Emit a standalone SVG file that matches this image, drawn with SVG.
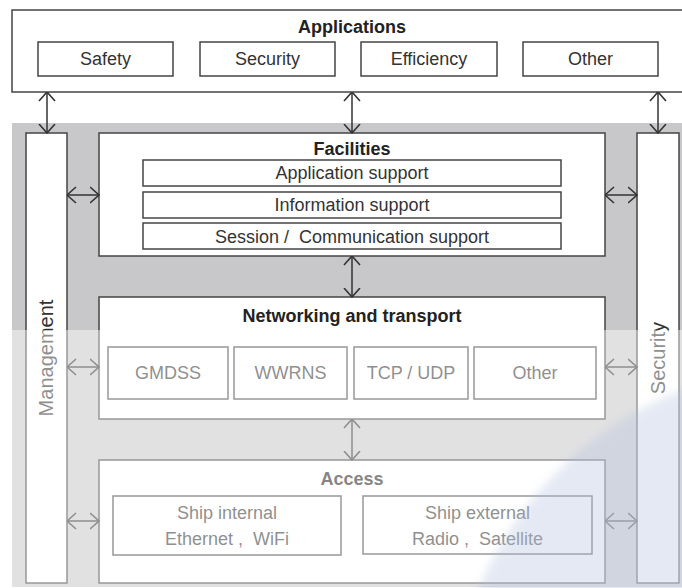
<svg xmlns="http://www.w3.org/2000/svg" width="682" height="588" viewBox="0 0 682 588">
  <defs>
    <style>
      .box { fill: #ffffff; stroke: #444; stroke-width: 1.5; }
      .t { font-family: "Liberation Sans", Arial, sans-serif; font-size: 18px; fill: #333; text-anchor: middle; }
      .b { font-weight: bold; fill: #222; }
      .side { font-size: 20px; }
      .conn line { stroke: #333; stroke-width: 1.5; marker-start: url(#chev); marker-end: url(#chev); }
    </style>
    <marker id="chev" viewBox="0 0 10 18" refX="9.5" refY="9" markerWidth="10" markerHeight="18" markerUnits="userSpaceOnUse" orient="auto-start-reverse">
      <path d="M0.5,1 L9.5,9 L0.5,17" fill="none" stroke="#333" stroke-width="1.6"/>
    </marker>
    <filter id="soft" x="-10%" y="-10%" width="120%" height="120%">
      <feGaussianBlur stdDeviation="4"/>
    </filter>
  </defs>

  <!-- background band behind the stack -->
  <rect x="12" y="123" width="670" height="464" fill="#c8c8ca"/>

  <g id="applications">
    <rect class="box" x="12" y="10" width="680" height="82"/>
    <text class="t b" x="352" y="33">Applications</text>
    <rect class="box" x="38" y="42" width="135" height="34"/>
    <text class="t" x="105.5" y="65">Safety</text>
    <rect class="box" x="200" y="42" width="135" height="34"/>
    <text class="t" x="267.5" y="65">Security</text>
    <rect class="box" x="361" y="42" width="136" height="34"/>
    <text class="t" x="429" y="65">Efficiency</text>
    <rect class="box" x="523" y="42" width="135" height="34"/>
    <text class="t" x="590.5" y="65">Other</text>
  </g>

  <g id="management">
    <rect class="box" x="26" y="133" width="41" height="450"/>
    <text class="t side" transform="translate(53,358) rotate(-90)">Management</text>
  </g>

  <g id="security">
    <rect class="box" x="637" y="133" width="42" height="450"/>
    <text class="t side" transform="translate(665,358) rotate(-90)">Security</text>
  </g>

  <g id="facilities">
    <rect class="box" x="99" y="133" width="506" height="123"/>
    <text class="t b" x="352" y="155">Facilities</text>
    <rect class="box" x="143" y="160" width="418" height="26"/>
    <text class="t" x="352" y="179">Application support</text>
    <rect class="box" x="143" y="192" width="418" height="26"/>
    <text class="t" x="352" y="211">Information support</text>
    <rect class="box" x="143" y="223" width="418" height="26"/>
    <text class="t" x="352" y="243" xml:space="preserve">Session /  Communication support</text>
  </g>

  <g id="networking">
    <rect class="box" x="99" y="297" width="506" height="122"/>
    <text class="t b" x="352" y="322">Networking and transport</text>
    <rect class="box" x="108" y="347" width="120" height="52"/>
    <text class="t" x="168" y="379">GMDSS</text>
    <rect class="box" x="234" y="347" width="113" height="52"/>
    <text class="t" x="290.5" y="379">WWRNS</text>
    <rect class="box" x="354" y="347" width="114" height="52"/>
    <text class="t" x="411" y="379">TCP / UDP</text>
    <rect class="box" x="474" y="347" width="122" height="52"/>
    <text class="t" x="535" y="379">Other</text>
  </g>

  <g id="access">
    <rect class="box" x="99" y="460" width="506" height="123"/>
    <text class="t b" x="352" y="485">Access</text>
    <rect class="box" x="113" y="496" width="228" height="59"/>
    <text class="t" x="227" y="519">Ship internal</text>
    <text class="t" x="227" y="545" xml:space="preserve">Ethernet ,  WiFi</text>
    <rect class="box" x="363" y="496" width="229" height="58"/>
    <text class="t" x="477.5" y="519">Ship external</text>
    <text class="t" x="477.5" y="545" xml:space="preserve">Radio ,  Satellite</text>
  </g>

  <g id="connectors" class="conn">
    <line x1="47" y1="92" x2="47" y2="133"/>
    <line x1="352" y1="92" x2="352" y2="133"/>
    <line x1="658" y1="92" x2="658" y2="133"/>
    <line x1="352" y1="256" x2="352" y2="297"/>
    <line x1="352" y1="419" x2="352" y2="460"/>
    <line x1="67" y1="195" x2="99" y2="195"/>
    <line x1="605" y1="195" x2="637" y2="195"/>
    <line x1="67" y1="367" x2="99" y2="367"/>
    <line x1="605" y1="367" x2="637" y2="367"/>
    <line x1="67" y1="521" x2="99" y2="521"/>
    <line x1="605" y1="521" x2="637" y2="521"/>
  </g>

  <!-- faded lower half with a pale blue disc -->
  <rect x="0" y="330" width="682" height="258" fill="#ffffff" opacity="0.45"/>
  <circle cx="815" cy="730" r="365" fill="#afbede" opacity="0.32" filter="url(#soft)"/>
</svg>
